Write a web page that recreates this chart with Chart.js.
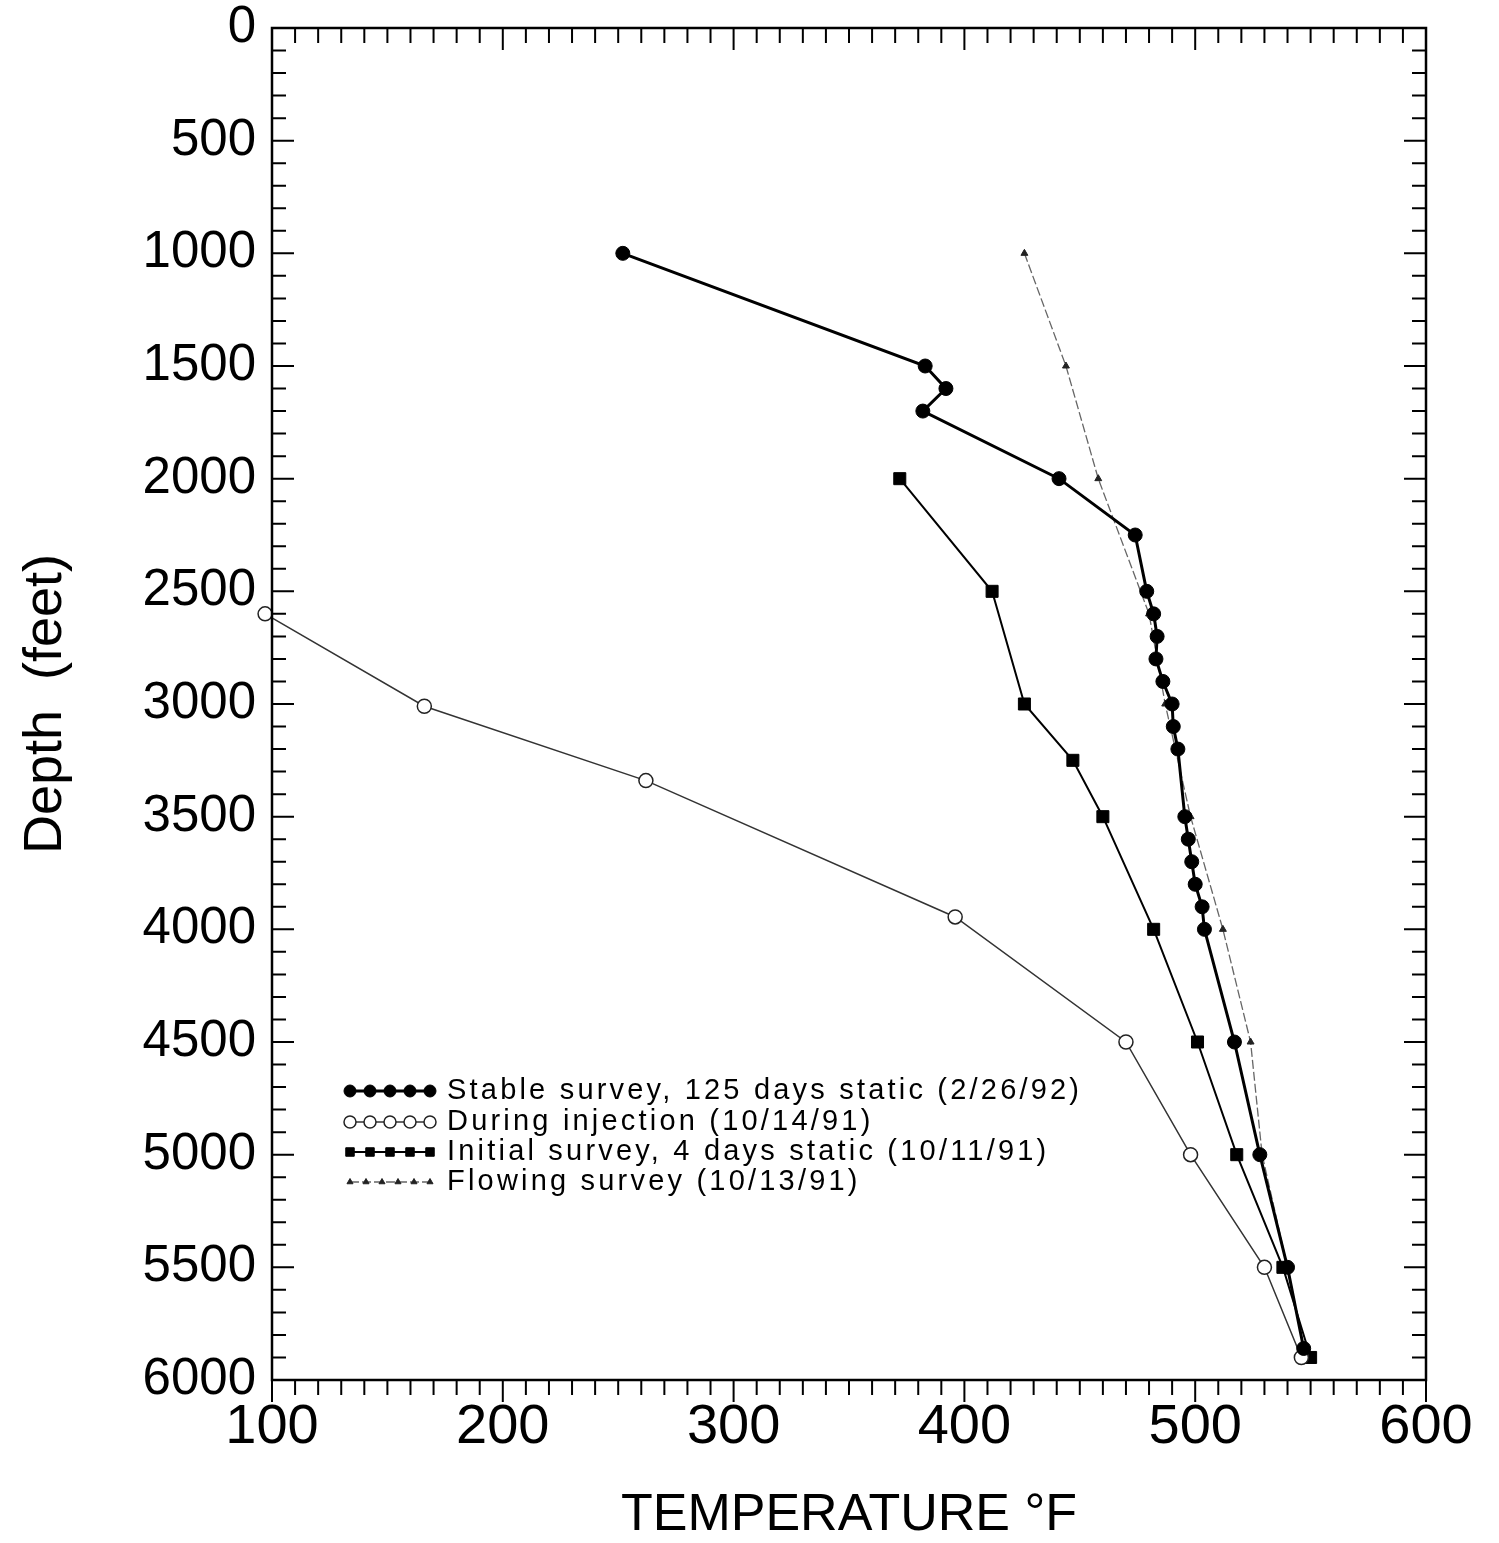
<!DOCTYPE html>
<html>
<head>
<meta charset="utf-8">
<script src="https://cdn.jsdelivr.net/npm/chart.js@4.4.1/dist/chart.umd.min.js"></script>
<style>
  html, body { margin: 0; padding: 0; background: #fff; }
  #wrap { width: 1499px; height: 1543px; }
</style>
</head>
<body>
<div id="wrap"><canvas id="chart" width="1499" height="1543"></canvas></div>
<script>
// depth in feet, temperature in °F
const stableDepth = [1000, 1500, 1600, 1700, 2000, 2250, 2500, 2600, 2700, 2800, 2900, 3000, 3100, 3200, 3500, 3600, 3700, 3800, 3900, 4000, 4500, 5000, 5500, 5860];
const stableTemp = [252, 383, 392, 382, 441, 474, 479, 482, 483.5, 483, 486, 490, 490.5, 492.5, 495.5, 497, 498.5, 500, 503, 504, 517, 528, 540, 547];

const injDepth = [2600, 3010, 3340, 3945, 4500, 5000, 5500, 5900];
const injTemp = [97, 166, 262, 396, 470, 498, 530, 546];

const initDepth = [2000, 2500, 3000, 3250, 3500, 4000, 4500, 5000, 5500, 5900];
const initTemp = [372, 412, 426, 447, 460, 482, 501, 518, 538, 550];

const flowDepth = [1000, 1500, 2000, 2600, 3000, 3500, 4000, 4500, 5000, 5500, 5900];
const flowTemp = [426, 444, 458, 480, 487, 498, 512, 524, 529, 540, 548];

const seriesLabels = [
  "Stable survey, 125 days static (2/26/92)",
  "During injection (10/14/91)",
  "Initial survey, 4 days static (10/11/91)",
  "Flowing survey (10/13/91)"
];

const xTicks = [100, 200, 300, 400, 500, 600];
const yTicks = [0, 500, 1000, 1500, 2000, 2500, 3000, 3500, 4000, 4500, 5000, 5500, 6000];

const FONT = "'Liberation Sans', Arial, sans-serif";

function pts(t, d) {
  return t.map((v, i) => ({ x: v, y: d[i] }));
}

// frame + ticks on all four sides
const framePlugin = {
  id: "frame",
  afterDatasetsDraw(chart) {
    const { ctx, chartArea: a, scales } = chart;
    const xs = scales.x, ys = scales.y;
    ctx.save();
    ctx.strokeStyle = "#000";
    ctx.lineWidth = 2.5;
    ctx.strokeRect(a.left, a.top, a.right - a.left, a.bottom - a.top);
    ctx.lineWidth = 2;
    ctx.beginPath();
    for (let v = 100; v <= 600; v += 10) {
      const px = xs.getPixelForValue(v);
      const len = v % 100 === 0 ? 22 : 15;
      ctx.moveTo(px, a.bottom); ctx.lineTo(px, a.bottom + len);
      ctx.moveTo(px, a.top); ctx.lineTo(px, a.top + len);
    }
    for (let v = 0; v <= 6000; v += 100) {
      const py = ys.getPixelForValue(v);
      const len = v % 500 === 0 ? 22 : 14;
      ctx.moveTo(a.left, py); ctx.lineTo(a.left + len, py);
      ctx.moveTo(a.right, py); ctx.lineTo(a.right - len, py);
    }
    ctx.stroke();
    ctx.restore();
  }
};

// legend inside plot, lower left
const legendPlugin = {
  id: "innerLegend",
  afterDraw(chart) {
    const { ctx } = chart;
    const rows = [1091, 1122, 1152, 1182];
    ctx.save();
    ctx.font = "29px " + FONT;
    ctx.textBaseline = "middle";
    ctx.letterSpacing = "3.2px";
    rows.forEach((y, i) => {
      const ds = chart.data.datasets[i];
      const x0 = 350, x1 = 430;
      ctx.strokeStyle = ds.borderColor;
      ctx.lineWidth = ds.borderWidth;
      ctx.setLineDash(ds.borderDash || []);
      ctx.beginPath();
      ctx.moveTo(x0, y); ctx.lineTo(x1, y);
      ctx.stroke();
      ctx.setLineDash([]);
      const n = i === 3 ? 6 : 5;
      for (let k = 0; k < n; k++) {
        const x = x0 + (x1 - x0) * k / (n - 1);
        ctx.fillStyle = ds.pointBackgroundColor;
        ctx.strokeStyle = ds.pointBorderColor;
        ctx.lineWidth = ds.pointBorderWidth;
        Chart.helpers.drawPoint(ctx, {
          pointStyle: ds.pointStyle,
          radius: i === 3 ? 3.5 : 6,
          rotation: 0,
          borderWidth: ds.pointBorderWidth
        }, x, y);
      }
      ctx.fillStyle = "#000";
      ctx.fillText(seriesLabels[i], 447, y);
    });
    ctx.restore();
  }
};

new Chart(document.getElementById("chart"), {
  type: "scatter",
  data: {
    datasets: [
      {
        label: seriesLabels[0],
        data: pts(stableTemp, stableDepth),
        showLine: true,
        borderColor: "#000",
        borderWidth: 3,
        pointStyle: "circle",
        pointRadius: 7,
        pointBackgroundColor: "#000",
        pointBorderColor: "#000",
        pointBorderWidth: 1,
        clip: false
      },
      {
        label: seriesLabels[1],
        data: pts(injTemp, injDepth),
        showLine: true,
        borderColor: "#333",
        borderWidth: 1.5,
        pointStyle: "circle",
        pointRadius: 7,
        pointBackgroundColor: "#fff",
        pointBorderColor: "#222",
        pointBorderWidth: 1.5,
        clip: false
      },
      {
        label: seriesLabels[2],
        data: pts(initTemp, initDepth),
        showLine: true,
        borderColor: "#000",
        borderWidth: 2,
        pointStyle: "rect",
        pointRadius: 8.5,
        pointBackgroundColor: "#000",
        pointBorderColor: "#000",
        pointBorderWidth: 1,
        clip: false
      },
      {
        label: seriesLabels[3],
        data: pts(flowTemp, flowDepth),
        showLine: true,
        borderColor: "#666",
        borderWidth: 1.3,
        borderDash: [9, 3],
        pointStyle: "triangle",
        pointRadius: 4,
        pointBackgroundColor: "#222",
        pointBorderColor: "#222",
        pointBorderWidth: 1,
        clip: false
      }
    ]
  },
  options: {
    responsive: false,
    devicePixelRatio: 1,
    animation: false,
    events: [],
    layout: { padding: { top: 28, right: 73, left: 0, bottom: 0 } },
    plugins: { legend: { display: false }, tooltip: { enabled: false } },
    elements: { line: { tension: 0 } },
    scales: {
      x: {
        type: "linear",
        min: 100,
        max: 600,
        afterFit: (s) => { s.height = 163; s.paddingLeft = 0; s.paddingRight = 0; },
        afterBuildTicks: (s) => { s.ticks = xTicks.map((v) => ({ value: v })); },
        grid: { display: false, drawTicks: false },
        border: { display: false },
        ticks: {
          padding: 20,
          color: "#000",
          maxRotation: 0,
          callback: (v) => String(v),
          font: { family: FONT, size: 56, lineHeight: 1 }
        },
        title: {
          display: true,
          text: "TEMPERATURE °F",
          color: "#000",
          padding: { top: 0, bottom: 1 },
          font: { family: FONT, size: 52, lineHeight: 1 }
        }
      },
      y: {
        type: "linear",
        min: 0,
        max: 6000,
        reverse: true,
        afterFit: (s) => { s.width = 272; s.paddingTop = 0; s.paddingBottom = 0; },
        afterBuildTicks: (s) => { s.ticks = yTicks.map((v) => ({ value: v })); },
        grid: { display: false, drawTicks: false },
        border: { display: false },
        ticks: {
          padding: 16,
          color: "#000",
          callback: (v) => String(v),
          font: { family: FONT, size: 51, lineHeight: 1 }
        },
        title: {
          display: true,
          text: "Depth  (feet)",
          color: "#000",
          padding: { top: 14, bottom: 0 },
          font: { family: FONT, size: 54, lineHeight: 1.2 }
        }
      }
    }
  },
  plugins: [framePlugin, legendPlugin]
});
</script>
</body>
</html>
